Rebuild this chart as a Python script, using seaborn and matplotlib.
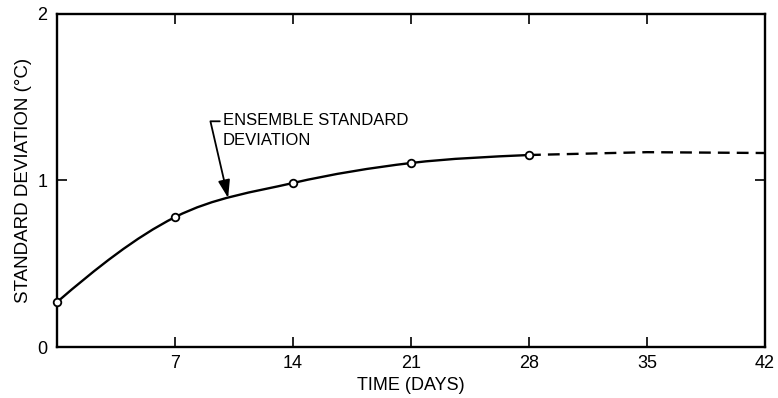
import numpy as np
import pandas as pd
import matplotlib
matplotlib.use("Agg")
import matplotlib.pyplot as plt
from matplotlib.path import Path
from matplotlib.patches import PathPatch
import seaborn as sns

# data
days = [0, 7, 14, 21, 28]
std_values = [0.27, 0.78, 0.985, 1.105, 1.153]
ext_days = [28, 35, 42]
ext_values = [1.153, 1.17, 1.165]
x_ticks = [7, 14, 21, 28, 35, 42]
y_ticks = [0, 1, 2]
annotation = "ENSEMBLE STANDARD\nDEVIATION"
arrow_target = (10.15, 0.895)
text_pos = (9.85, 1.30)

sns.set_theme(style="white")
plt.rcParams["font.family"] = ["Liberation Sans", "DejaVu Sans"]
plt.rcParams["text.color"] = "black"
plt.rcParams["axes.labelcolor"] = "black"

fig = plt.figure(figsize=(7.78, 3.98), dpi=100)
ax = fig.add_axes([0.0733, 0.128, 0.91, 0.837])

# smooth solid curve (Catmull-Rom as cubic Bezier through the measured points)
xs = np.array(days, dtype=float)
ys = np.array(std_values, dtype=float)
px = np.concatenate([[2 * xs[0] - xs[1]], xs, [2 * xs[-1] - xs[-2]]])
py = np.concatenate([[ys[0] - (ys[1] - ys[0]) * 1.4], ys, [ys[-1] + (ext_values[1] - ys[-1])]])
verts = [(xs[0], ys[0])]
codes = [Path.MOVETO]
for i in range(1, len(px) - 2):
    c1 = (px[i] + (px[i + 1] - px[i - 1]) / 6, py[i] + (py[i + 1] - py[i - 1]) / 6)
    c2 = (px[i + 1] - (px[i + 2] - px[i]) / 6, py[i + 1] - (py[i + 2] - py[i]) / 6)
    verts += [c1, c2, (px[i + 1], py[i + 1])]
    codes += [Path.CURVE4] * 3
ax.add_patch(PathPatch(Path(verts, codes), facecolor="none", edgecolor="black", lw=1.7, zorder=2))

# dashed extension
ext = pd.DataFrame({"day": ext_days, "std": ext_values})
sns.lineplot(data=ext, x="day", y="std", ax=ax, color="black", lw=1.7,
             linestyle=(0, (5, 3)), zorder=2)

# open circle markers
pts = pd.DataFrame({"day": days, "std": std_values})
sns.scatterplot(data=pts, x="day", y="std", ax=ax, s=30, facecolor="white",
                edgecolor="black", linewidth=1.3, zorder=3, clip_on=False)

ax.set_xlim(0, 42)
ax.set_ylim(0, 2)
ax.set_xticks(x_ticks)
ax.set_yticks(y_ticks)
ax.tick_params(axis="both", direction="in", length=7, width=1.2, colors="black",
               labelsize=13, top=True, right=True, left=True, bottom=True)
ax.tick_params(axis="x", pad=6)
ax.tick_params(axis="y", pad=7)
for s in ax.spines.values():
    s.set_visible(True)
    s.set_color("black")
    s.set_linewidth(1.7)

ax.set_xlabel("TIME (DAYS)", fontsize=13, labelpad=3)
ax.set_ylabel("STANDARD DEVIATION (°C)", fontsize=13.5, labelpad=4)

# annotation with bracket leader and arrow
ax.annotate(annotation, xy=arrow_target, xytext=text_pos,
            fontsize=12, va="center", ha="left", linespacing=1.35, color="black",
            arrowprops=dict(arrowstyle="-|>,head_length=0.9,head_width=0.3",
                            color="black", lw=1.3, shrinkA=0, shrinkB=0,
                            connectionstyle="angle,angleA=180,angleB=103,rad=0",
                            relpos=(-0.01, 0.77)))

fig.savefig("out.png", dpi=100)
